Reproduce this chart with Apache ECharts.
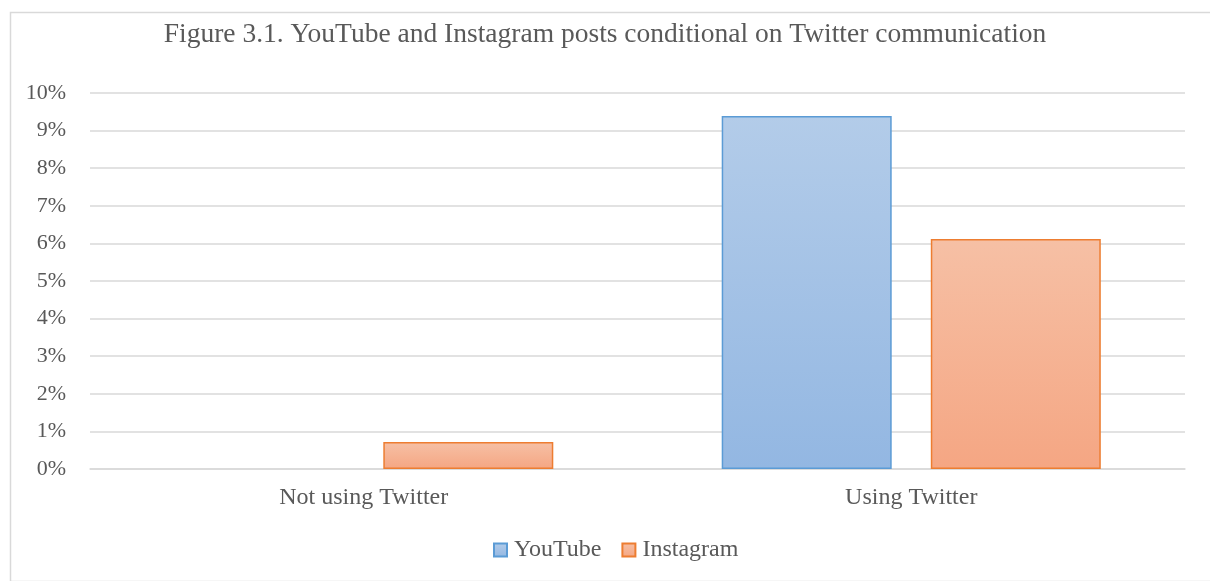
<!DOCTYPE html>
<html>
<head>
<meta charset="utf-8">
<script src="https://cdn.jsdelivr.net/npm/echarts@6/dist/echarts.min.js"></script>
<style>html,body{margin:0;padding:0;background:#fff}#c{width:1210px;height:581px}</style>
</head>
<body>
<div id="c"></div>
<script>
const titleText = 'Figure 3.1. YouTube and Instagram posts conditional on Twitter communication';
const categories = ['Not using Twitter', 'Using Twitter'];
const seriesNames = ['YouTube', 'Instagram'];
const youtube = [0, 9.39];
const instagram = [0.72, 6.12];

const font = '"Liberation Serif", "Times New Roman", serif';
const chart = echarts.init(document.getElementById('c'));
function grad(top, bottom) {
  return new echarts.graphic.LinearGradient(0, 0, 0, 1, [
    {offset: 0, color: top}, {offset: 1, color: bottom}
  ]);
}
function items(arr) {
  return arr.map(v => v === 0 ? {value: v, itemStyle: {borderWidth: 0}} : v);
}
chart.setOption({
  backgroundColor: '#fff',
  animation: false,
  graphic: [{
    type: 'rect', left: 8, top: 10, shape: {width: 1220, height: 569},
    style: {fill: 'none', stroke: '#d9d9d9', lineWidth: 1.5}, silent: true, z: -1
  }],
  title: {
    text: titleText, left: 'center', top: 16,
    textStyle: {fontFamily: font, fontSize: 27.5, fontWeight: 'normal', color: '#595959'}
  },
  legend: {
    data: seriesNames, bottom: 14, left: 488, itemWidth: 13, itemHeight: 13, itemGap: 20,
    icon: 'rect',
    textStyle: {fontFamily: font, fontSize: 24, color: '#595959', padding: [0, 0, 0, 2]}
  },
  grid: {left: 90, right: 25, top: 93, bottom: 112},
  xAxis: {
    type: 'category', data: categories,
    axisLine: {lineStyle: {color: '#d9d9d9', width: 1.5}},
    axisTick: {show: false},
    axisLabel: {fontFamily: font, fontSize: 24, color: '#595959', margin: 17}
  },
  yAxis: {
    type: 'value', min: 0, max: 10, interval: 1,
    axisLine: {show: false}, axisTick: {show: false},
    splitLine: {lineStyle: {color: '#d9d9d9', width: 1.5}},
    axisLabel: {fontFamily: font, fontSize: 22, color: '#595959', margin: 24, formatter: v => v + '%'}
  },
  series: [
    {
      name: 'YouTube', type: 'bar', data: items(youtube), barWidth: 170, barGap: '23%',
      itemStyle: {color: grad('#b3cce9', '#93b7e2'), borderColor: '#5b9bd5', borderWidth: 1.5}
    },
    {
      name: 'Instagram', type: 'bar', data: items(instagram), barWidth: 170,
      itemStyle: {color: grad('#f6c0a5', '#f5a683'), borderColor: '#ed7d31', borderWidth: 1.5}
    }
  ]
});
</script>
</body>
</html>
